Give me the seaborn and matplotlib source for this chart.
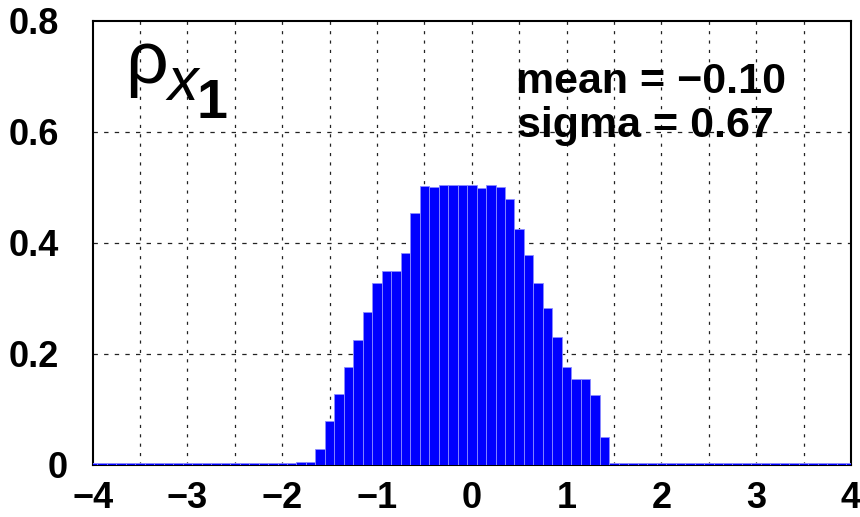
import numpy as np
import pandas as pd
import matplotlib
matplotlib.use("Agg")
import matplotlib.pyplot as plt
import matplotlib.transforms as mtransforms
import seaborn as sns

# Histogram of x1: bin centres (width 0.1) and normalised bin contents
bin_centers = [round(-4.0 + 0.1 * i, 1) for i in range(81)]
density = (
    [0.0025] * 22
    + [0.004, 0.004]
    + [0.028, 0.078, 0.127, 0.175, 0.224, 0.275, 0.328, 0.349, 0.349, 0.381,
       0.453, 0.502, 0.501, 0.503, 0.504, 0.504, 0.503, 0.499, 0.503, 0.501,
       0.478, 0.425, 0.378, 0.328, 0.282, 0.230, 0.175, 0.155, 0.154, 0.125,
       0.050]
    + [0.0025] * 26
)
bin_edges = [round(-4.05 + 0.1 * i, 2) for i in range(82)]

x_ticks = [-4, -3, -2, -1, 0, 1, 2, 3, 4]
x_ticklabels = ["\u22124", "\u22123", "\u22122", "\u22121", "0", "1", "2", "3", "4"]
y_ticks = [0, 0.2, 0.4, 0.6, 0.8]
y_ticklabels = ["0", "0.2", "0.4", "0.6", "0.8"]
stats_text = ["mean = \u22120.10", "sigma = 0.67"]

df = pd.DataFrame({"x": bin_centers, "w": density})

sns.set_theme(style="white")
plt.rcParams["font.family"] = ["Liberation Sans", "DejaVu Sans"]
plt.rcParams["text.color"] = "black"
plt.rcParams["xtick.color"] = "black"
plt.rcParams["ytick.color"] = "black"

fig = plt.figure(figsize=(8.6, 5.17), dpi=100)
ax = fig.add_axes([0.1078, 0.1015, 0.8817, 0.8585])

sns.histplot(data=df, x="x", weights="w", bins=bin_edges, stat="count",
             color="#0000ff", alpha=1.0, edgecolor="#8c8cff", linewidth=0.6,
             ax=ax, zorder=3)

ax.set_xlim(-4, 4)
ax.set_ylim(0, 0.8)

# dotted grid: every 0.5 in x, every 0.2 in y
for gx in np.arange(-3.5, 4.0, 0.5):
    ax.axvline(gx, color="#222222", lw=0.9, ls=(0, (2.5, 5)), zorder=1)
for gy in y_ticks[1:-1]:
    ax.axhline(gy, color="#222222", lw=0.9, ls=(0, (3.5, 5)), zorder=1)

ax.set_xticks(x_ticks)
ax.set_xticklabels(x_ticklabels)
ax.set_yticks(y_ticks)
ax.set_yticklabels(y_ticklabels)
ax.tick_params(axis="x", length=0, labelsize=26, pad=12)
ax.tick_params(axis="y", length=0, labelsize=26, pad=24)
for lab in ax.get_xticklabels() + ax.get_yticklabels():
    lab.set_fontweight("bold")
    lab.set_color("black")
# the "0" label sits a little closer to the axis
zero_lab = ax.get_yticklabels()[0]
zero_lab.set_transform(zero_lab.get_transform() +
                       mtransforms.ScaledTranslation(8 / 100, 0, fig.dpi_scale_trans))

ax.set_xlabel("")
ax.set_ylabel("")
for sp in ax.spines.values():
    sp.set_visible(True)
    sp.set_color("black")
    sp.set_linewidth(1.5)
    sp.set_zorder(2.5)
ax.grid(False)

# rho_{x_1} label
ax.text(-3.66, 0.687, "\u03c1", fontsize=54, ha="left", va="baseline",
        color="black", zorder=5)
ax.text(-3.21, 0.657, "x", fontsize=44, style="italic", ha="left",
        va="baseline", color="black", zorder=5)
ax.text(-2.90, 0.625, "1", fontsize=40, fontweight="bold", ha="left",
        va="baseline", color="black", zorder=5)

ax.text(1.89, 0.670, stats_text[0], fontsize=31, fontweight="bold",
        ha="center", va="baseline", color="black", zorder=5)
ax.text(1.83, 0.590, stats_text[1], fontsize=31, fontweight="bold",
        ha="center", va="baseline", color="black", zorder=5)

fig.savefig("out.png", dpi=100)
